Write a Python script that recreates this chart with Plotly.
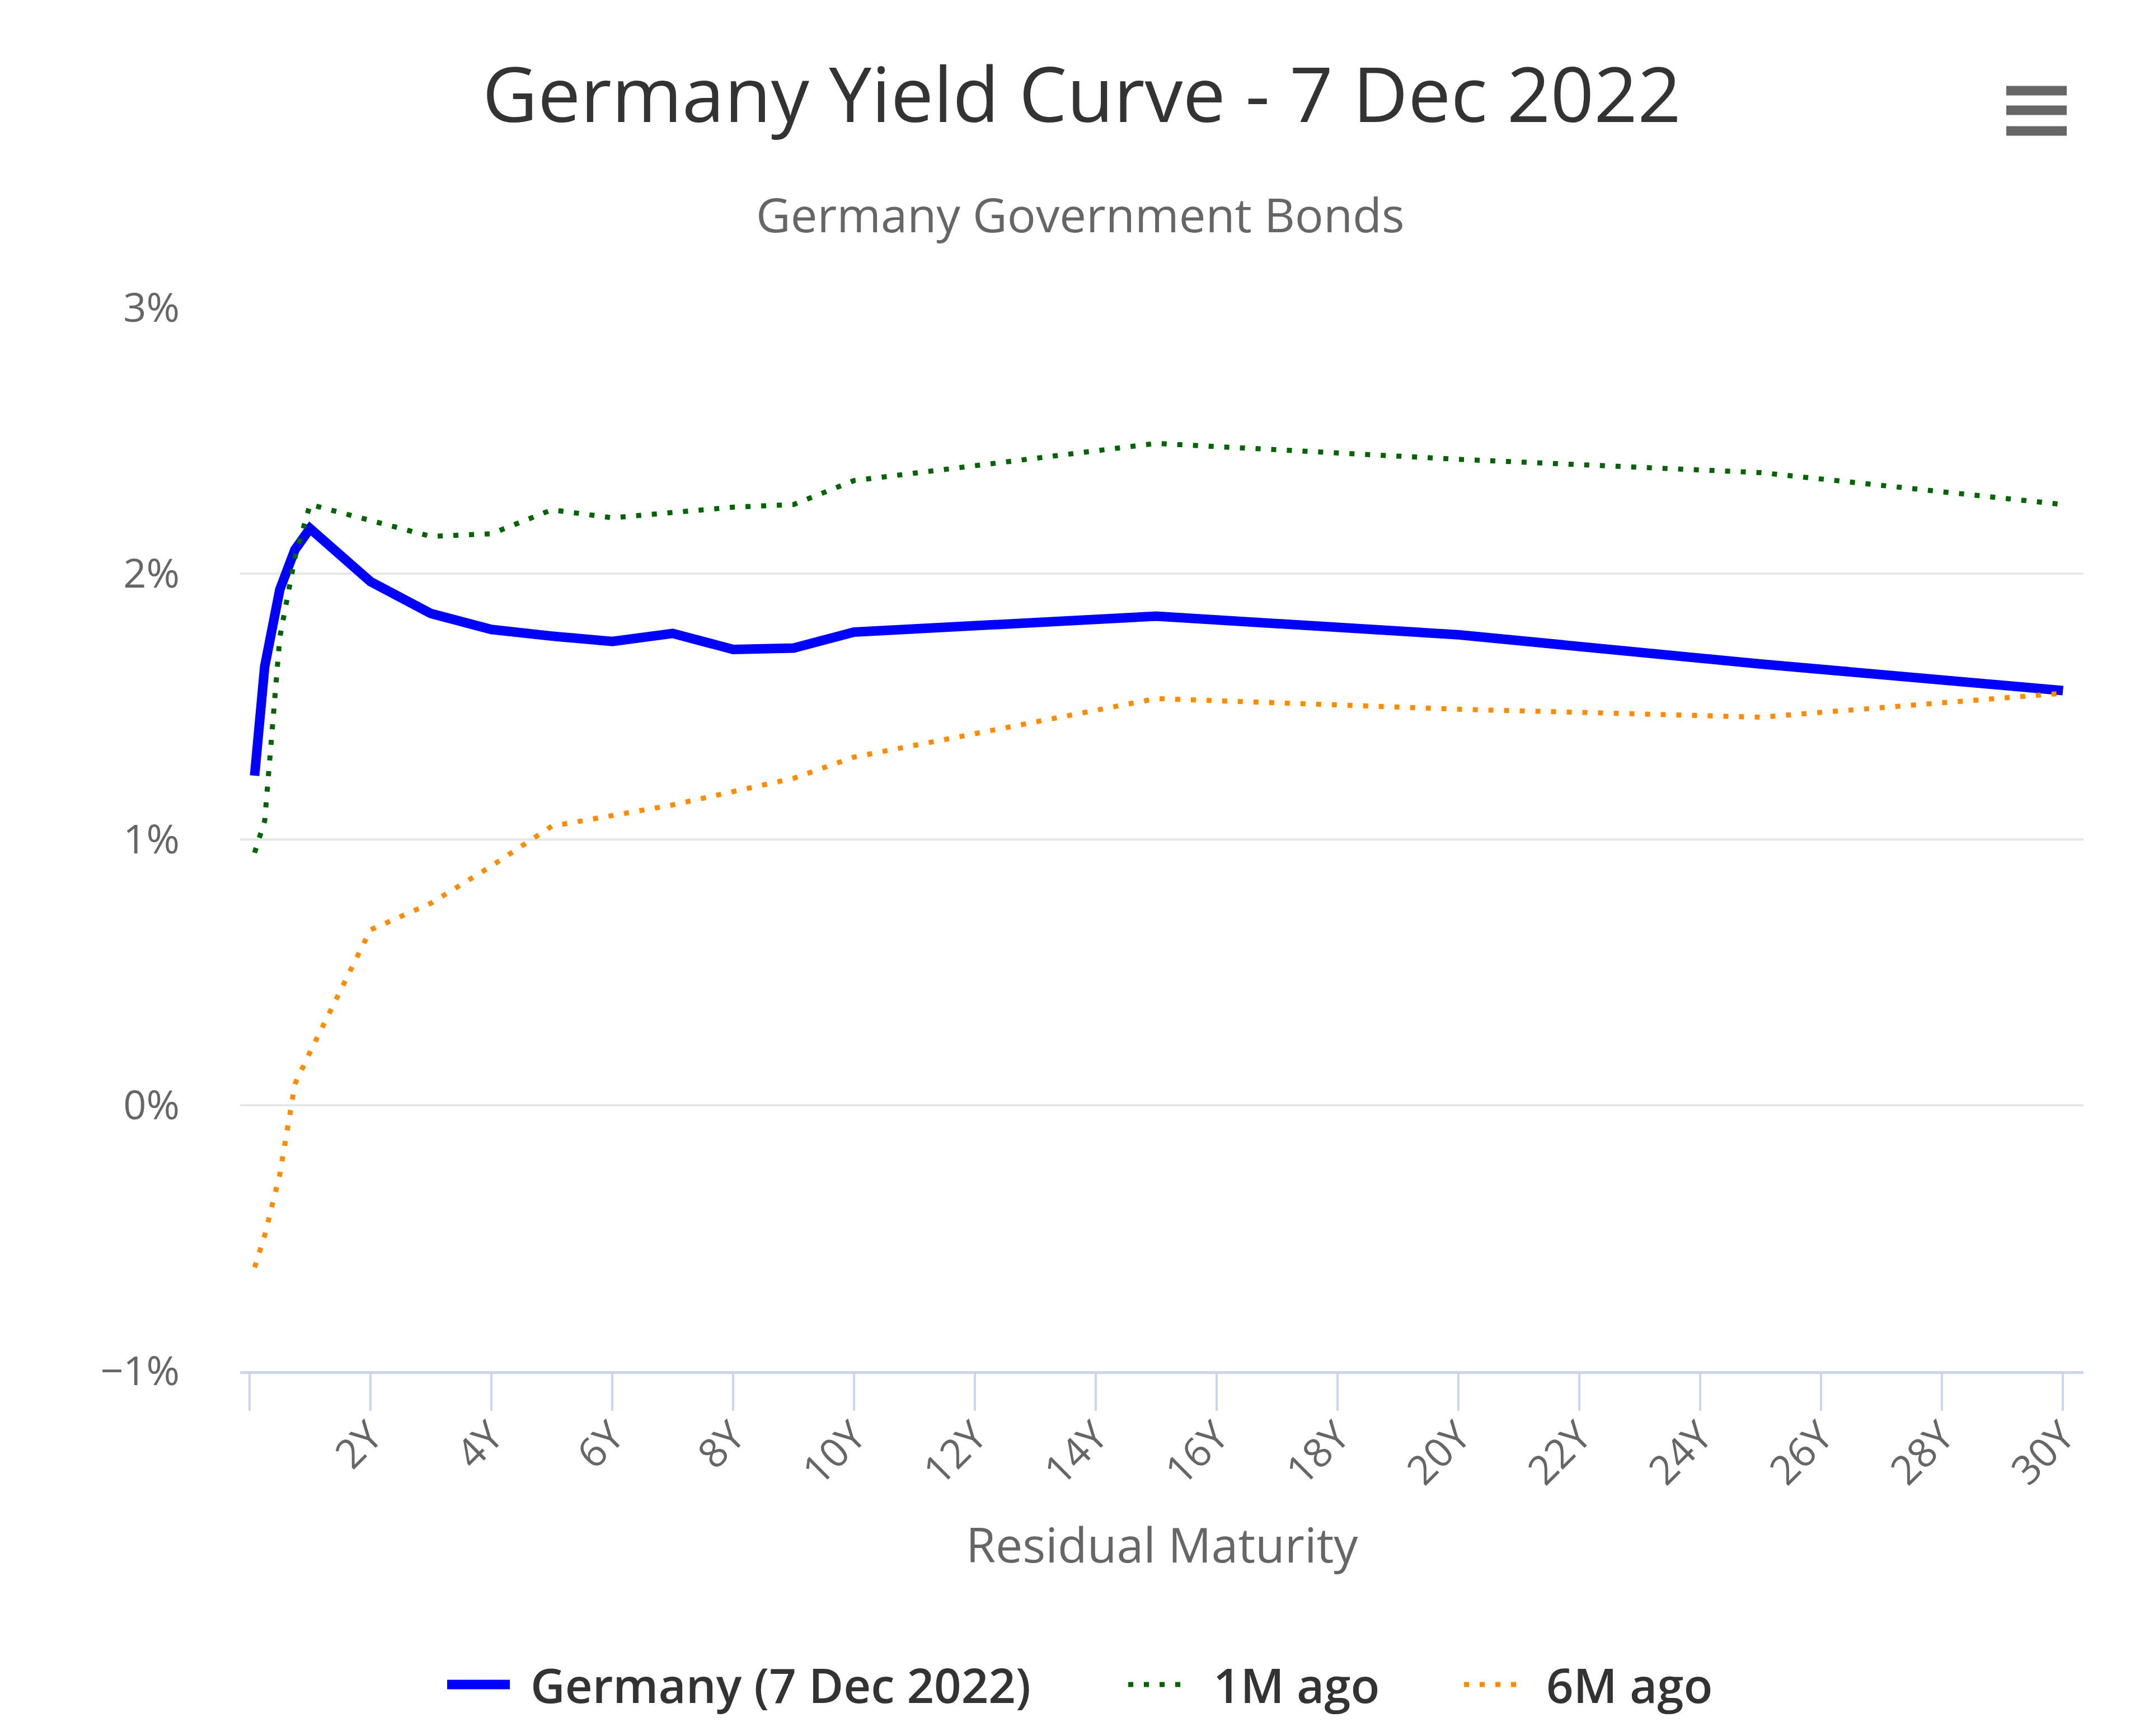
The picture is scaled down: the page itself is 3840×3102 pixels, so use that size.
import plotly.graph_objects as go

# ---------------- data ----------------
maturity_labels = ["1M", "3M", "6M", "9M", "1Y", "2Y", "3Y", "4Y", "5Y", "6Y",
                   "7Y", "8Y", "9Y", "10Y", "15Y", "20Y", "25Y", "30Y"]
maturity_years = [0.0833, 0.25, 0.5, 0.75, 1, 2, 3, 4, 5, 6,
                  7, 8, 9, 10, 15, 20, 25, 30]

germany_7dec2022 = [1.24, 1.65, 1.94, 2.09, 2.17, 1.97, 1.85, 1.79, 1.765, 1.745,
                    1.775, 1.715, 1.72, 1.78, 1.84, 1.77, 1.66, 1.56]
one_month_ago = [0.95, 1.07, 1.76, 2.06, 2.26, 2.20, 2.14, 2.15, 2.24, 2.21,
                 2.23, 2.25, 2.26, 2.35, 2.49, 2.43, 2.38, 2.26]
six_months_ago = [-0.61, -0.49, -0.26, 0.08, 0.20, 0.66, 0.76, 0.90, 1.05, 1.09,
                  1.13, 1.18, 1.23, 1.31, 1.53, 1.49, 1.46, 1.55]

series_names = ["Germany (7 Dec 2022)", "1M ago", "6M ago"]

x_tick_vals = [0, 2, 4, 6, 8, 10, 12, 14, 16, 18, 20, 22, 24, 26, 28, 30]
x_tick_text = ["", "2Y", "4Y", "6Y", "8Y", "10Y", "12Y", "14Y", "16Y", "18Y",
               "20Y", "22Y", "24Y", "26Y", "28Y", "30Y"]
y_tick_vals = [-1, 0, 1, 2, 3]
y_tick_text = ["\u22121%", "0%", "1%", "2%", "3%"]

title_text = "Germany Yield Curve - 7 Dec 2022"
subtitle_text = "Germany Government Bonds"
x_title_text = "Residual Maturity"

# ---------------- layout geometry ----------------
W, H = 3840, 3102
L, R, T, B = 421, 125, 542, 660
FONT = "Open Sans"
BLUE, GREEN, ORANGE = "#0000ff", "#006400", "#ff8c00"
DOT = "9px,19px"


def px(x):
    return (x - L) / (W - L - R)


def py(y):
    return (H - B - y) / (H - T - B)


fig = go.Figure()
fig.add_trace(go.Scatter(x=maturity_years, y=germany_7dec2022, mode="lines",
                         name=series_names[0], text=maturity_labels,
                         line=dict(color=BLUE, width=17)))
fig.add_trace(go.Scatter(x=maturity_years, y=one_month_ago, mode="lines",
                         name=series_names[1], text=maturity_labels,
                         line=dict(color=GREEN, width=9, dash=DOT)))
fig.add_trace(go.Scatter(x=maturity_years, y=six_months_ago, mode="lines",
                         name=series_names[2], text=maturity_labels,
                         line=dict(color=ORANGE, width=9, dash=DOT)))

annotations = [
    dict(text=subtitle_text, x=px(1922), y=py(374), xref="paper", yref="paper",
         xanchor="center", yanchor="middle", showarrow=False,
         font=dict(family=FONT, size=85, color="#666666")),
    dict(text=x_title_text, x=px(2068), y=py(2750), xref="paper", yref="paper",
         xanchor="center", yanchor="middle", showarrow=False,
         font=dict(family=FONT, size=86, color="#666666")),
]

shapes = []
# custom legend (symbol + label)
legend_items = [
    (series_names[0], BLUE, 17, "solid", 791, 903, 938),
    (series_names[1], GREEN, 9, DOT, 2008, 2111, 2158),
    (series_names[2], ORANGE, 9, DOT, 2608, 2706, 2753),
]
LEG_Y = 3002
for name, col, wid, dash, x0, x1, tx in legend_items:
    shapes.append(dict(type="line", xref="paper", yref="paper",
                       x0=px(x0), x1=px(x1), y0=py(LEG_Y), y1=py(LEG_Y),
                       line=dict(color=col, width=wid, dash=dash)))
    annotations.append(dict(text=name, x=px(tx), y=py(LEG_Y),
                            xref="paper", yref="paper", xanchor="left",
                            yanchor="middle", showarrow=False,
                            font=dict(family=FONT, size=85, color="#333333",
                                      weight=600)))

# hamburger menu icon
for yy in (154, 189, 226):
    shapes.append(dict(type="line", xref="paper", yref="paper",
                       x0=px(3577), x1=px(3685), y0=py(yy), y1=py(yy),
                       line=dict(color="#666666", width=17)))

fig.update_layout(
    width=W, height=H, autosize=False,
    margin=dict(l=L, r=R, t=T, b=B, pad=0),
    paper_bgcolor="white", plot_bgcolor="white",
    showlegend=False,
    title=dict(text=title_text, x=1925 / W, xref="container", xanchor="center",
               y=1 - 162 / H, yref="container", yanchor="middle",
               font=dict(family=FONT, size=136, color="#333333")),
    xaxis=dict(range=[-0.157, 30.34], tickvals=x_tick_vals, ticktext=x_tick_text,
               tickangle=-45, ticks="outside", ticklen=66, tickwidth=4,
               tickcolor="#ccd6eb", showline=True, linecolor="#ccd6eb",
               linewidth=5, showgrid=False, zeroline=False,
               ticklabelstandoff=-26,
               tickfont=dict(family=FONT, size=72, color="#666666")),
    yaxis=dict(range=[-1, 3], tickvals=y_tick_vals, ticktext=y_tick_text,
               showgrid=True, gridcolor="#e6e6e6", gridwidth=4,
               zeroline=False, showline=False, ticks="",
               ticklabelstandoff=107,
               tickfont=dict(family=FONT, size=72, color="#666666")),
    annotations=annotations,
    shapes=shapes,
)

fig.write_html("out.html")
